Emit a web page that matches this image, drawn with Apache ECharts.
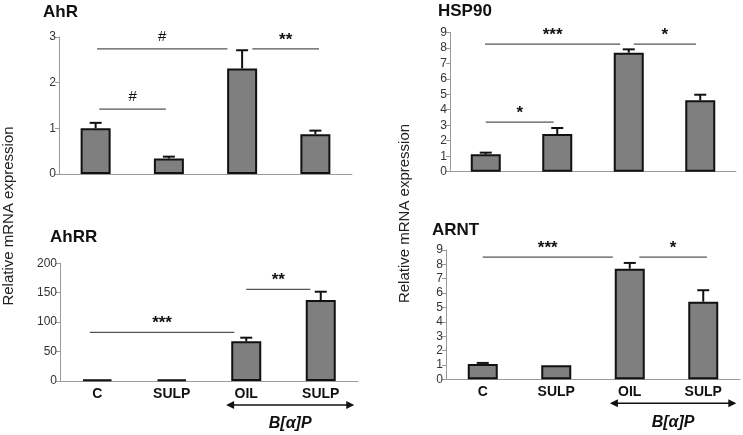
<!DOCTYPE html>
<html><head><meta charset="utf-8">
<script src="https://cdn.jsdelivr.net/npm/echarts@6/dist/echarts.min.js"></script>
<style>html,body{margin:0;padding:0;background:#fff}#c{width:743px;height:435px}</style>
</head><body><div id="c"></div>
<script>
// ---- data ----
const categories = ['C', 'SULP', 'OIL', 'SULP'];
const panelTitles = ['AhR', 'HSP90', 'AhRR', 'ARNT'];
const ahrValues = [1.0, 0.34, 2.31, 0.87];
const ahrErrTop = [1.12, 0.38, 2.71, 0.95];
const hsp90Values = [1.12, 2.43, 7.68, 4.61];
const hsp90ErrTop = [1.23, 2.82, 7.9, 4.97];
const ahrrValues = [2.5, 2.5, 67.4, 137.6];
const ahrrErrTop = [2.5, 2.5, 73.6, 151.7];
const arntValues = [1.07, 0.97, 7.7, 5.4];
const arntErrTop = [1.14, 0.97, 8.1, 6.2];
// significance brackets: [from category pos, to category pos, y value]
const ahrSig = [[0.05, 0.96, 1.42], [0.02, 1.8, 2.74], [2.14, 3.05, 2.74]];
const ahrSigLabels = ['#', '#', '**'];
const hsp90Sig = [[0, 0.95, 3.2], [-0.01, 1.88, 8.24], [2.07, 2.94, 8.24]];
const hsp90SigLabels = ['*', '***', '*'];
const ahrrSig = [[-0.1, 1.84, 82.7], [2.0, 2.86, 155.8]];
const ahrrSigLabels = ['***', '**'];
const arntSig = [[0, 1.77, 8.5], [2.13, 3.05, 8.5]];
const arntSigLabels = ['***', '*'];
const yMax = [3, 9, 200, 9];
const yInterval = [1, 1, 50, 1];
const treatmentGroup = [[2, 3]];
const treatmentLabel = 'B[α]P';
const yAxisTitle = 'Relative mRNA expression';

// ---- layout ----
const grids = [
  {left: 59, top: 37, width: 293, height: 137},
  {left: 450, top: 32.3, width: 286, height: 139.4},
  {left: 60, top: 263.3, width: 298, height: 117.7},
  {left: 446, top: 250, width: 294, height: 129.3}
];
const titlePos = [[43, 4], [438, 3], [50, 229], [432, 222]];
const FONT = '"Liberation Sans", Arial, sans-serif';

const values = [ahrValues, hsp90Values, ahrrValues, arntValues];
const errs = [ahrErrTop, hsp90ErrTop, ahrrErrTop, arntErrTop];
const sigs = [ahrSig, hsp90Sig, ahrrSig, arntSig];
const sigLabels = [ahrSigLabels, hsp90SigLabels, ahrrSigLabels, arntSigLabels];

function errRender(params, api) {
  const x = api.value(0), v = api.value(1), e = api.value(2);
  if (e <= v) return null;
  const p0 = api.coord([x, v]), p1 = api.coord([x, e]);
  return {type: 'group', children: [
    {type: 'line', shape: {x1: p0[0], y1: p0[1], x2: p1[0], y2: p1[1]}, style: {stroke: '#111', lineWidth: 2}},
    {type: 'line', shape: {x1: p1[0] - 6, y1: p1[1], x2: p1[0] + 6, y2: p1[1]}, style: {stroke: '#111', lineWidth: 2}}
  ]};
}
function makeSigRender(labels) {
  return function (params, api) {
    const a = api.value(0), b = api.value(1), y = api.value(2);
    const base = api.coord([0, y]);
    const band = api.size([1, 0])[0];
    const x1 = base[0] + a * band, x2 = base[0] + b * band;
    const lab = labels[params.dataIndex];
    const isStar = lab.indexOf('*') >= 0;
    return {type: 'group', children: [
      {type: 'line', shape: {x1: x1, y1: base[1], x2: x2, y2: base[1]}, style: {stroke: '#555', lineWidth: 1.3}},
      {type: 'text', x: (x1 + x2) / 2, y: base[1] - (isStar ? 9 : 12), style: {
        text: lab, align: 'center', verticalAlign: 'middle',
        font: (isStar ? 'bold 17px ' : '15px ') + FONT, fill: '#111'}}
    ]};
  };
}
function arrowRender(params, api) {
  const a = api.value(0), b = api.value(1);
  const band = api.size([1, 0])[0];
  const base = api.coord([a, 0]);
  const end = api.coord([b, 0]);
  const x1 = base[0] - 0.27 * band, x2 = end[0] + 0.45 * band;
  const y = base[1] + 24;
  const h = 8, w = 4;
  return {type: 'group', children: [
    {type: 'line', shape: {x1: x1 + 2, y1: y, x2: x2 - 2, y2: y}, style: {stroke: '#111', lineWidth: 1.5}},
    {type: 'polygon', shape: {points: [[x1, y], [x1 + h, y - w], [x1 + h, y + w]]}, style: {fill: '#111'}},
    {type: 'polygon', shape: {points: [[x2, y], [x2 - h, y - w], [x2 - h, y + w]]}, style: {fill: '#111'}},
    {type: 'text', x: (x1 + x2) / 2, y: y + 19, style: {text: treatmentLabel, align: 'center', verticalAlign: 'middle',
      font: 'italic bold 16px ' + FONT, fill: '#111'}}
  ]};
}

const option = {
  animation: false,
  backgroundColor: '#fff',
  title: panelTitles.map((t, i) => ({text: t, left: titlePos[i][0], top: titlePos[i][1], padding: 0,
    textStyle: {fontFamily: FONT, fontSize: 17, fontWeight: 'bold', color: '#111'}})),
  grid: grids.map(g => Object.assign({containLabel: false}, g)),
  xAxis: grids.map((g, i) => ({
    type: 'category', gridIndex: i, data: categories,
    axisLine: {lineStyle: {color: '#9a9a9a', width: 1}},
    axisTick: {show: false},
    axisLabel: {show: i >= 2, fontFamily: FONT, fontSize: 14, fontWeight: 'bold', color: '#111', margin: 6}
  })),
  yAxis: grids.map((g, i) => ({
    type: 'value', gridIndex: i, min: 0, max: yMax[i], interval: yInterval[i],
    splitLine: {show: false},
    axisLine: {show: true, lineStyle: {color: '#9a9a9a', width: 1}},
    axisTick: {show: true, length: 4, lineStyle: {color: '#9a9a9a'}},
    axisLabel: {fontFamily: FONT, fontSize: 12, color: '#333', margin: 3}
  })),
  graphic: [
    {type: 'text', x: 9, y: 216, rotation: Math.PI / 2, style: {text: yAxisTitle, align: 'center', verticalAlign: 'middle', font: '15px ' + FONT, fill: '#222'}},
    {type: 'text', x: 405, y: 213.5, rotation: Math.PI / 2, style: {text: yAxisTitle, align: 'center', verticalAlign: 'middle', font: '15px ' + FONT, fill: '#222'}}
  ],
  series: []
};
for (let i = 0; i < 4; i++) {
  option.series.push({
    type: 'bar', xAxisIndex: i, yAxisIndex: i, data: values[i], barWidth: 30,
    itemStyle: {color: '#7f7f7f', borderColor: '#111', borderWidth: 2}, z: 2
  });
  option.series.push({
    type: 'custom', xAxisIndex: i, yAxisIndex: i, z: 3,
    data: values[i].map((v, k) => [k, v, errs[i][k]]),
    renderItem: errRender
  });
  option.series.push({
    type: 'custom', xAxisIndex: i, yAxisIndex: i, z: 4, clip: false,
    data: sigs[i], renderItem: makeSigRender(sigLabels[i])
  });
  if (i >= 2) {
    option.series.push({
      type: 'custom', xAxisIndex: i, yAxisIndex: i, z: 4, clip: false,
      data: treatmentGroup, renderItem: arrowRender
    });
  }
}
const chart = echarts.init(document.getElementById('c'), null, {renderer: 'canvas'});
chart.setOption(option);
</script>
</body></html>
